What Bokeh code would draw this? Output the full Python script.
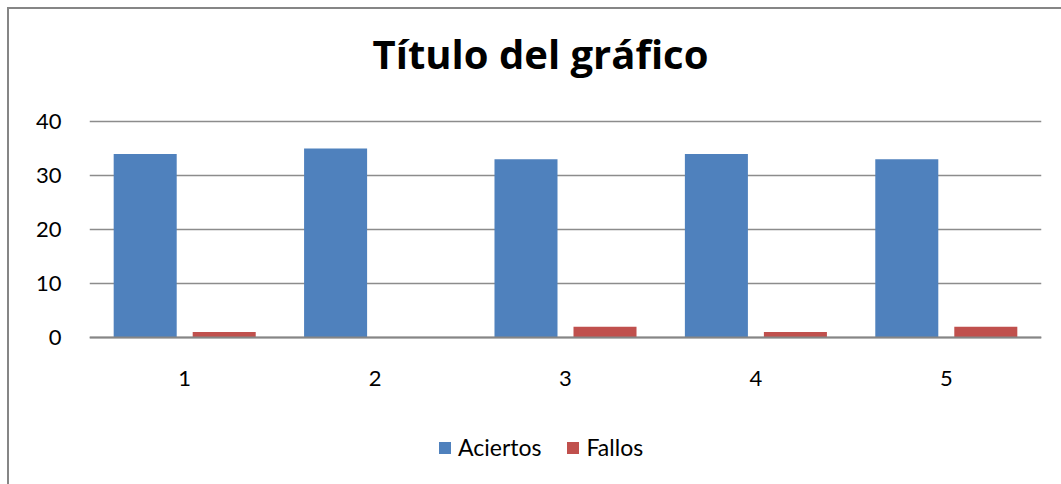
from bokeh.plotting import figure
from bokeh.models import ColumnDataSource, FactorRange, Range1d, Legend, LegendItem, Label
from bokeh.transform import dodge
from bokeh.embed import file_html
from bokeh.resources import INLINE

categories = ["1", "2", "3", "4", "5"]
aciertos = [34, 35, 33, 34, 33]
fallos = [1, 0, 2, 1, 2]
series_names = ["Aciertos", "Fallos"]
series_colors = ["#4f81bd", "#c0504d"]
y_ticks = [0, 10, 20, 30, 40]
chart_title = "Título del gráfico"

src = ColumnDataSource(data=dict(cat=categories, aciertos=aciertos, fallos=fallos))

FONT = "Lato"

# the plot frame spans the whole height of the chart area; the value axis
# (0..40) occupies the middle band, title and legend live above/below it.
p = figure(
    x_range=FactorRange(*categories, range_padding=0.0),
    y_range=Range1d(-27.23, 60.75),
    width=1052, height=475,
    frame_width=952, frame_height=475,
    output_backend="svg", toolbar_location=None,
    min_border_left=80, min_border_right=20, min_border_top=0, min_border_bottom=0,
    background_fill_color="white", border_fill_color="white",
)
p.styles = {"border-left": "2px solid #868686", "border-top": "2px solid #868686",
            "margin-left": "7px", "margin-top": "7px"}
p.title.text = ""
p.title.visible = False

r1 = p.vbar(x=dodge("cat", -0.2075, range=p.x_range), top="aciertos", width=0.331,
            source=src, fill_color=series_colors[0], line_color=None)
r2 = p.vbar(x=dodge("cat", 0.2075, range=p.x_range), top="fallos", width=0.331,
            source=src, fill_color=series_colors[1], line_color=None)

p.outline_line_color = None

title = Label(x=451, x_units="screen", y=52.6, y_units="data", text=chart_title,
              text_align="center", text_baseline="alphabetic",
              text_font="Open Sans", text_font_style="bold",
              text_font_size="40px", text_color="black")
p.add_layout(title)

p.xgrid.grid_line_color = None
p.ygrid.ticker = y_ticks
p.ygrid.grid_line_color = "#8c8c8c"
p.ygrid.grid_line_width = 1.5

p.yaxis.ticker = y_ticks
p.yaxis.axis_line_color = None
p.yaxis.major_tick_line_color = None
p.yaxis.minor_tick_line_color = None
p.yaxis.major_label_text_font = FONT
p.yaxis.major_label_text_font_size = "22px"
p.yaxis.major_label_text_color = "black"
p.yaxis.major_label_standoff = 22

p.xaxis.fixed_location = 0
p.xaxis.axis_line_color = "#868686"
p.xaxis.axis_line_width = 2
p.xaxis.major_tick_line_color = None
p.xaxis.minor_tick_line_color = None
p.xaxis.major_label_text_font = FONT
p.xaxis.major_label_text_font_size = "22px"
p.xaxis.major_label_text_color = "black"
p.xaxis.major_label_standoff = 28

legend = Legend(items=[LegendItem(label=series_names[0], renderers=[r1]),
                       LegendItem(label=series_names[1], renderers=[r2])],
                orientation="horizontal", location=(348, 23))
legend.label_text_font = FONT
legend.label_text_font_size = "23px"
legend.label_text_color = "black"
legend.glyph_width = 15
legend.glyph_height = 15
legend.spacing = 24
legend.label_standoff = 6
legend.padding = 0
legend.margin = 0
legend.border_line_color = None
legend.background_fill_alpha = 0
p.add_layout(legend, "center")

open("out.html", "w").write(file_html(p, INLINE))
